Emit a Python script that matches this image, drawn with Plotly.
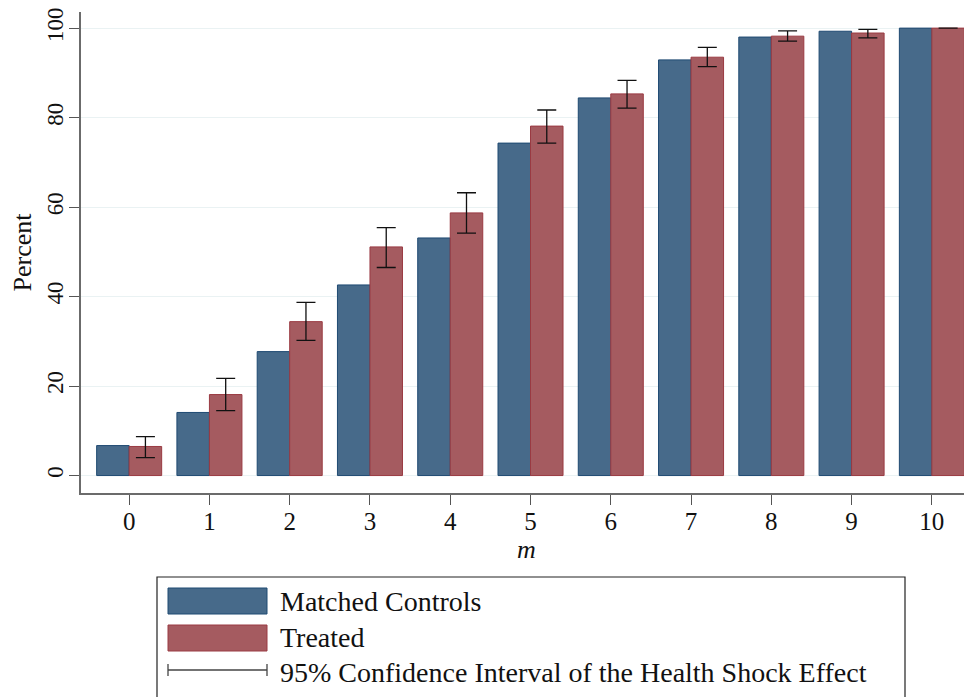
import plotly.graph_objects as go

m_values = [0, 1, 2, 3, 4, 5, 6, 7, 8, 9, 10]
matched_controls = [6.7, 14.1, 27.7, 42.6, 53.1, 74.3, 84.4, 92.9, 98.0, 99.3, 100.0]
treated = [6.5, 18.1, 34.4, 51.1, 58.7, 78.1, 85.3, 93.5, 98.2, 98.9, 100.0]
ci_low = [4.0, 14.5, 30.2, 46.5, 54.2, 74.3, 82.1, 91.4, 97.1, 97.8, 100.0]
ci_high = [8.7, 21.7, 38.7, 55.4, 63.2, 81.7, 88.3, 95.7, 99.4, 99.7, 100.0]
y_ticks = [0, 20, 40, 60, 80, 100]
legend_labels = ["Matched Controls", "Treated", "95% Confidence Interval of the Health Shock Effect"]

FONT = "Liberation Serif"
BODY = 8  # default page body margin in the html page
W, H = 972 - BODY, 697 - BODY
ML, MR, MT, MB = 81 - BODY, 0, 12 - BODY, 204
PW, PH = W - ML - MR, H - MT - MB

BLUE, BLUE_EDGE = "#476a8a", "#1f4a72"
RED, RED_EDGE = "#a55b60", "#9a3a42"

err_plus = [h - v for h, v in zip(ci_high, treated)]
err_minus = [v - l for v, l in zip(treated, ci_low)]
has_ci = [h != l for h, l in zip(ci_high, ci_low)]
err_plus = [e if f else None for e, f in zip(err_plus, has_ci)]
err_minus = [e if f else None for e, f in zip(err_minus, has_ci)]

fig = go.Figure()
fig.add_trace(go.Bar(x=m_values, y=matched_controls, name=legend_labels[0],
                     marker=dict(color=BLUE, line=dict(color=BLUE_EDGE, width=1))))
fig.add_trace(go.Bar(x=m_values, y=treated, name=legend_labels[1],
                     marker=dict(color=RED, line=dict(color=RED_EDGE, width=1)),
                     error_y=dict(type="data", symmetric=False, array=err_plus,
                                  arrayminus=err_minus, color="#111111",
                                  thickness=1.3, width=9.5)))


def px(x):
    return (x - BODY - ML) / PW


def py(y):
    return (H - MB - (y - BODY)) / PH


shapes = []
annotations = []
# legend box
shapes.append(dict(type="rect", xref="paper", yref="paper", x0=px(157), x1=px(905),
                   y0=py(720), y1=py(577), line=dict(color="#222222", width=1.2),
                   fillcolor="white", layer="above"))
# swatches
shapes.append(dict(type="rect", xref="paper", yref="paper", x0=px(168), x1=px(267),
                   y0=py(614), y1=py(588), fillcolor=BLUE, line=dict(color=BLUE_EDGE, width=1),
                   layer="above"))
shapes.append(dict(type="rect", xref="paper", yref="paper", x0=px(168), x1=px(267),
                   y0=py(651), y1=py(625), fillcolor=RED, line=dict(color=RED_EDGE, width=1),
                   layer="above"))
shapes.append(dict(type="line", xref="paper", yref="paper", x0=px(168), x1=px(267),
                   y0=py(670), y1=py(670), line=dict(color="#444444", width=1.3), layer="above"))
for xc in (168, 267):
    shapes.append(dict(type="line", xref="paper", yref="paper", x0=px(xc), x1=px(xc),
                       y0=py(664), y1=py(676), line=dict(color="#444444", width=1.3), layer="above"))
for lab, yc in zip(legend_labels, (601, 637, 672)):
    annotations.append(dict(text=lab, xref="paper", yref="paper", x=px(278), y=py(yc),
                            xanchor="left", yanchor="middle", showarrow=False,
                            font=dict(family=FONT, size=28, color="#111111")))

fig.update_layout(
    width=W, height=H,
    margin=dict(l=ML, r=MR, t=MT, b=MB, pad=0, autoexpand=False),
    paper_bgcolor="white", plot_bgcolor="white",
    barmode="group", bargap=0.19, bargroupgap=0,
    showlegend=False,
    font=dict(family=FONT, size=22, color="#111111"),
    shapes=shapes, annotations=annotations,
    xaxis=dict(range=[-0.6, 10.5], tickvals=m_values, ticktext=[str(v) for v in m_values],
               automargin=False, ticklabeloverflow="allow",
               showgrid=False, zeroline=False, showline=True, linecolor="#6b6b6b", linewidth=1.5,
               ticks="outside", ticklen=10, tickcolor="#555555", tickwidth=1.3,
               ticklabelstandoff=-5,
               tickfont=dict(family=FONT, size=25),
               title=dict(text="<i>m</i>", font=dict(family=FONT, size=26), standoff=2)),
    yaxis=dict(range=[-3.9, 103.6], tickvals=y_ticks, tickangle=-90, automargin=False,
               ticklabeloverflow="allow",
               showgrid=True, gridcolor="#eaf2f3", gridwidth=1.2, zeroline=False,
               showline=True, linecolor="#6b6b6b", linewidth=1.5,
               ticks="outside", ticklen=10, tickcolor="#555555", tickwidth=1.3,
               ticklabelstandoff=-3,
               tickfont=dict(family=FONT, size=23),
               title=dict(text="Percent", font=dict(family=FONT, size=26), standoff=7)),
)

fig.write_html("out.html")
